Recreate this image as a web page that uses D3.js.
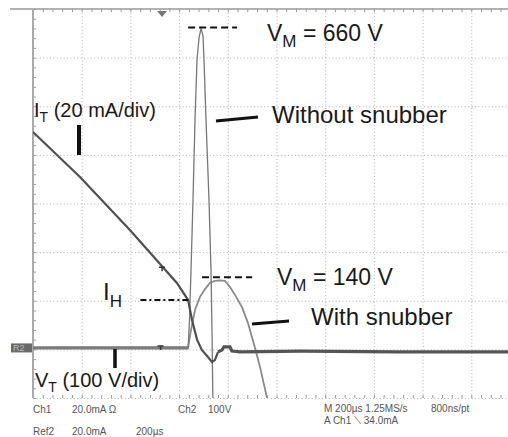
<!DOCTYPE html>
<html>
<head>
<meta charset="utf-8">
<script src="https://cdn.jsdelivr.net/npm/d3@7"></script>
<style>
  body { margin: 0; background: #fff; }
  svg { display: block; font-family: "Liberation Sans", Arial, sans-serif; }
  .grid line { stroke: #b0b0b0; stroke-dasharray: 1,2.4; }
  .grid path, .minor path { display: none; }
  .minor line { stroke: #999; }
</style>
</head>
<body>
<div id="chart"></div>
<script>
// time in microseconds (200 us/div), voltage in V (100 V/div), current in mA (20 mA/div)
const currentT = [0, 193, 398, 591, 637, 653, 674, 694, 715, 735, 747, 760, 776, 784, 809, 817, 850, 1100, 1500, 2000];
const currentI = [90.4, 71.9, 50.1, 28.3, 21.3, 13.1, 4.9, 0.7, -1.7, -4.2, -3.4, 0, 0.7, 2.0, 2.0, 0.3, 0, 0.3, 0, 0];

const noSnubT = [0, 637, 642.7, 648.9, 657.1, 665.3, 673.5, 681.7, 690, 698.2, 702.3, 710.5, 722.8, 731, 735.1, 737.6, 740];
const noSnubV = [3, 3, 60, 163, 307, 472, 595, 640, 660, 645, 595, 472, 307, 163, 40, -63, -145];

const snubT = [0, 637, 640.7, 648.9, 665.3, 685.8, 706.4, 726.9, 747.4, 768, 788.5, 809, 829.6, 858.3, 883, 913, 932.2, 961, 973];
const snubV = [3, 3, 15, 40, 81, 108, 124, 137, 141, 142, 141, 128, 112, 87, 54, 1, -36, -100, -129];

const vPeaks = [660, 140];
const holdCurrent = 21.3;
const triggerT = 530;

const footerLeft = [["Ch1", "20.0mA  \u03A9", "Ch2", "100V"], ["Ref2", "20.0mA", "200\u00B5s"]];
const footerRight = [["M 200\u00B5s 1.25MS/s", "800ns/pt"], ["A  Ch1  \u27CD  34.0mA"]];

const width = 508, height = 437;
const svg = d3.select("#chart").append("svg").attr("width", width).attr("height", height);

const x = d3.scaleLinear().domain([0, 2000]).range([33, 520]);
const yV = d3.scaleLinear().domain([-100, 700]).range([398, 9]);
const yI = d3.scaleLinear().domain([-19, 141]).range([398, 9]);

svg.append("defs").append("clipPath").attr("id", "plot")
  .append("rect").attr("x", 33).attr("y", 9).attr("width", 480).attr("height", 389);

// grid
svg.append("g").attr("class", "grid")
  .attr("transform", "translate(0,398)")
  .call(d3.axisBottom(x).tickValues(d3.range(200, 2001, 200)).tickSize(-389).tickFormat(""));
svg.append("g").attr("class", "grid")
  .attr("transform", "translate(33,0)")
  .call(d3.axisLeft(yV).tickValues(d3.range(-100, 601, 100)).tickSize(-487).tickFormat(""));

// minor ticks on frame
svg.append("g").attr("class", "minor")
  .attr("transform", "translate(0,9)")
  .call(d3.axisBottom(x).tickValues(d3.range(0, 2001, 40)).tickSize(3).tickFormat(""));
svg.append("g").attr("class", "minor")
  .attr("transform", "translate(0,398)")
  .call(d3.axisTop(x).tickValues(d3.range(0, 2001, 40)).tickSize(3).tickFormat(""));
svg.append("g").attr("class", "minor")
  .attr("transform", "translate(33,0)")
  .call(d3.axisRight(yV).tickValues(d3.range(-100, 701, 20)).tickSize(3).tickFormat(""));

// frame
svg.append("line").attr("x1", 10).attr("x2", width).attr("y1", yV(700)).attr("y2", yV(700))
  .attr("stroke", "#999").attr("stroke-width", 1.5);
svg.append("line").attr("x1", x(0)).attr("x2", x(0)).attr("y1", yV(700)).attr("y2", yV(-100))
  .attr("stroke", "#aaa").attr("stroke-width", 2);

// trigger position marker
svg.append("path")
  .attr("d", `M${x(triggerT) - 5},11 L${x(triggerT) + 5},11 L${x(triggerT)},17 Z`)
  .attr("fill", "#777");

// ref marker
svg.append("rect").attr("x", 11).attr("y", yV(3) - 4.5).attr("width", 21).attr("height", 9).attr("fill", "#6a6a6a");
svg.append("text").attr("x", 13).attr("y", yV(3) + 3.5).attr("font-size", 9).attr("fill", "#bbb").text("R2");

const plot = svg.append("g").attr("clip-path", "url(#plot)");

const lineV = d3.line().x(d => x(d[0])).y(d => yV(d[1]));
const lineI = d3.line().x(d => x(d[0])).y(d => yI(d[1]));

const noSnub = d3.zip(noSnubT, noSnubV);
const snub = d3.zip(snubT, snubV);
const current = d3.zip(currentT, currentI);

// on-state voltage (both traces overlap)
plot.append("path").datum(snub.filter(d => d[0] <= 637))
  .attr("d", lineV).attr("fill", "none").attr("stroke", "#6e6e6e").attr("stroke-width", 3.2);

plot.append("path").datum(snub)
  .attr("d", lineV).attr("fill", "none").attr("stroke", "#8a8a8a").attr("stroke-width", 1.8);
plot.append("path").datum(noSnub)
  .attr("d", lineV).attr("fill", "none").attr("stroke", "#777").attr("stroke-width", 1.3);

plot.append("path").datum(current.filter(d => d[0] <= 760))
  .attr("d", lineI).attr("fill", "none").attr("stroke", "#505050").attr("stroke-width", 2.2);
plot.append("path").datum(current.filter(d => d[0] >= 760))
  .attr("d", lineI).attr("fill", "none").attr("stroke", "#555").attr("stroke-width", 3.2);

// small trigger-level ticks on traces
function tee(cx, cy) {
  svg.append("path").attr("d", `M${cx - 3},${cy - 2} L${cx + 3},${cy - 2} M${cx},${cy - 2} L${cx},${cy + 2}`)
    .attr("stroke", "#333").attr("stroke-width", 1.5);
}
tee(x(530), yI(34));
tee(x(524), yV(3));

// annotations
const ann = svg.append("g").attr("fill", "#1a1a1a");

// dashed peak markers
svg.append("line").attr("x1", x(637)).attr("x2", x(838)).attr("y1", yV(vPeaks[0]) - 1).attr("y2", yV(vPeaks[0]) - 1)
  .attr("stroke", "#111").attr("stroke-width", 2).attr("stroke-dasharray", "7,4");
svg.append("line").attr("x1", x(694)).attr("x2", x(900)).attr("y1", yV(vPeaks[1]) - 4).attr("y2", yV(vPeaks[1]) - 4)
  .attr("stroke", "#111").attr("stroke-width", 2).attr("stroke-dasharray", "7,4");
svg.append("line").attr("x1", x(441)).attr("x2", x(637)).attr("y1", yI(holdCurrent)).attr("y2", yI(holdCurrent))
  .attr("stroke", "#111").attr("stroke-width", 2).attr("stroke-dasharray", "6,3,2,3");

// pointer bars
const bar = (x1, y1, x2, y2, w) => svg.append("line").attr("x1", x1).attr("y1", y1).attr("x2", x2).attr("y2", y2)
  .attr("stroke", "#111").attr("stroke-width", w);
bar(79, 125, 79, 155, 4);
bar(115, 349, 115, 368, 3.5);
bar(216, 121, 258, 117, 3);
bar(252, 324, 289, 321, 3);

function label(px, py, main, sub, rest, size, subSize, shift) {
  const t = ann.append("text").attr("x", px).attr("y", py).attr("font-size", size);
  t.append("tspan").text(main);
  t.append("tspan").attr("font-size", subSize).attr("dy", shift).text(sub);
  if (rest) t.append("tspan").attr("dy", -shift).text(rest);
}
label(267, 40.5, "V", "M", ` = ${vPeaks[0]} V`, 23, 17, 6);
label(277, 285, "V", "M", ` = ${vPeaks[1]} V`, 23, 17, 6);
label(34, 117, "I", "T", " (20 mA/div)", 20, 14, 5);
label(35, 387, "V", "T", " (100 V/div)", 20, 14, 5);
label(103, 300, "I", "H", "", 24, 17, 7);
ann.append("text").attr("x", 272).attr("y", 122.5).attr("font-size", 24).text("Without snubber");
ann.append("text").attr("x", 311).attr("y", 325).attr("font-size", 24).text("With snubber");

// footer readout
const foot = svg.append("g").attr("font-size", 10).attr("fill", "#555");
const leftCols = [33, 72, 178, 208];
footerLeft.forEach((row, r) => row.forEach((s, c) => {
  const cx = r === 1 && c === 2 ? 136 : leftCols[c];
  foot.append("text").attr("x", cx).attr("y", 413 + r * 22).text(s);
}));
const rightCols = [324, 431];
footerRight.forEach((row, r) => row.forEach((s, c) => {
  foot.append("text").attr("x", rightCols[c]).attr("y", 412 + r * 11.5).text(s);
}));
</script>
</body>
</html>
